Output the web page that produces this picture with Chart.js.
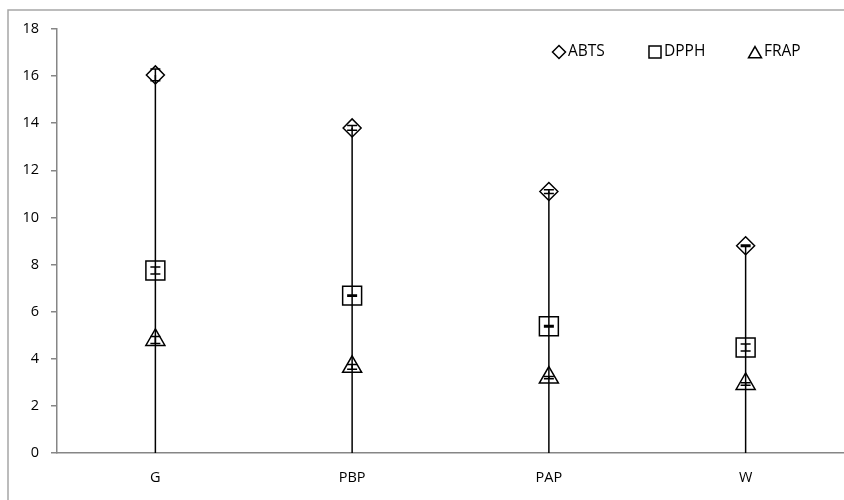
<!DOCTYPE html>
<html>
<head>
<meta charset="utf-8">
<script src="https://cdn.jsdelivr.net/npm/chart.js@4.4.0/dist/chart.umd.min.js"></script>
<style>
  html, body { margin: 0; padding: 0; background: #fff; overflow: hidden; }
  #wrap { width: 844px; height: 500px; position: relative; }
  #chart { display: block; }
</style>
</head>
<body>
<div id="wrap"><canvas id="chart"></canvas></div>
<script>
// data
const categories = ["G", "PBP", "PAP", "W"];
const abts = [16.05, 13.8, 11.1, 8.8];
const dpph = [7.75, 6.68, 5.38, 4.48];
const frap = [4.8, 3.66, 3.2, 2.93];
const abtsErr = [0.25, 0.1, 0.08, 0.03];
const dpphErr = [0.15, 0.03, 0.03, 0.15];
const frapErr = [0.15, 0.1, 0.05, 0.05];
const yTicks = [0, 2, 4, 6, 8, 10, 12, 14, 16, 18];

const FONT = "'Open Sans', 'Liberation Sans', sans-serif";
const AXIS_GREY = "#868686";

// frame, drop lines, error bars, legend
const extras = {
  id: "extras",
  beforeDraw(chart) {
    const ctx = chart.ctx;
    ctx.save();
    ctx.strokeStyle = "#a6a6a6";
    ctx.lineWidth = 1.5;
    ctx.beginPath();
    ctx.moveTo(8, 500);
    ctx.lineTo(8, 10);
    ctx.lineTo(844, 10);
    ctx.stroke();
    ctx.restore();
  },
  afterDatasetsDraw(chart) {
    const ctx = chart.ctx;
    const x = chart.scales.x, y = chart.scales.y;
    ctx.save();
    ctx.strokeStyle = "#000";
    ctx.lineWidth = 1.5;

    // high-low lines from 0 up to the top value
    categories.forEach((c, i) => {
      const px = x.getPixelForValue(i);
      const top = Math.max(abts[i], dpph[i], frap[i]);
      ctx.beginPath();
      ctx.moveTo(px, y.getPixelForValue(0));
      ctx.lineTo(px, y.getPixelForValue(top));
      ctx.stroke();
    });

    // error bars
    const series = [[abts, abtsErr], [dpph, dpphErr], [frap, frapErr]];
    series.forEach(([vals, errs]) => {
      vals.forEach((v, i) => {
        const px = x.getPixelForValue(i);
        const hi = y.getPixelForValue(v + errs[i]);
        const lo = y.getPixelForValue(v - errs[i]);
        ctx.beginPath();
        ctx.moveTo(px, hi); ctx.lineTo(px, lo);
        ctx.moveTo(px - 5, hi); ctx.lineTo(px + 5, hi);
        ctx.moveTo(px - 5, lo); ctx.lineTo(px + 5, lo);
        ctx.stroke();
      });
    });
    ctx.restore();

    // legend
    ctx.save();
    ctx.font = "15.5px " + FONT;
    ctx.textBaseline = "middle";
    ctx.strokeStyle = "#000";
    ctx.lineWidth = 1.5;
    const items = [
      { style: "rectRot", r: 6.5, cx: 559, label: "ABTS" },
      { style: "rect", r: 8.5, cx: 655, label: "DPPH" },
      { style: "triangle", r: 7.5, cx: 755, label: "FRAP" }
    ];
    items.forEach(it => {
      ctx.fillStyle = "rgba(0,0,0,0)";
      Chart.helpers.drawPoint(ctx, { pointStyle: it.style, radius: it.r, borderWidth: 1.5 }, it.cx, it.style === "triangle" ? 54 : 52);
      ctx.fillStyle = "#000";
      ctx.fillText(it.label, it.cx + 9, 52);
    });
    ctx.restore();
  }
};

const pointSet = (label, data, style, radius) => ({
  label,
  data,
  showLine: false,
  pointStyle: style,
  pointRadius: radius,
  pointHoverRadius: radius,
  pointBorderWidth: 1.5,
  pointBorderColor: "#000",
  pointBackgroundColor: "rgba(0,0,0,0)"
});

new Chart(document.getElementById("chart"), {
  type: "line",
  data: {
    labels: categories,
    datasets: [
      pointSet("ABTS", abts, "rectRot", 9),
      pointSet("DPPH", dpph, "rect", 13.4),
      pointSet("FRAP", frap, "triangle", 11)
    ]
  },
  options: {
    responsive: true,
    maintainAspectRatio: false,
    animation: false,
    devicePixelRatio: 1,
    layout: { autoPadding: false, padding: { left: 0, top: 29, right: 0, bottom: 0 } },
    plugins: {
      legend: { display: false },
      tooltip: { enabled: false }
    },
    scales: {
      x: {
        offset: true,
        grid: { drawOnChartArea: false, drawTicks: false },
        border: { display: true, color: AXIS_GREY, width: 1.5 },
        ticks: { color: "#000", font: { family: FONT, size: 14.5 }, padding: 16 },
        afterFit: s => { s.height = 47; }
      },
      y: {
        min: 0,
        max: 18,
        afterBuildTicks: s => { s.ticks = yTicks.map(v => ({ value: v })); },
        grid: { drawOnChartArea: false, drawTicks: true, tickLength: 6, color: AXIS_GREY, lineWidth: 1.5 },
        border: { display: true, color: AXIS_GREY, width: 1.5 },
        ticks: { color: "#000", font: { family: FONT, size: 14.5 }, padding: 12 },
        afterFit: s => { s.width = 57; }
      }
    }
  },
  plugins: [extras]
});
</script>
</body>
</html>
